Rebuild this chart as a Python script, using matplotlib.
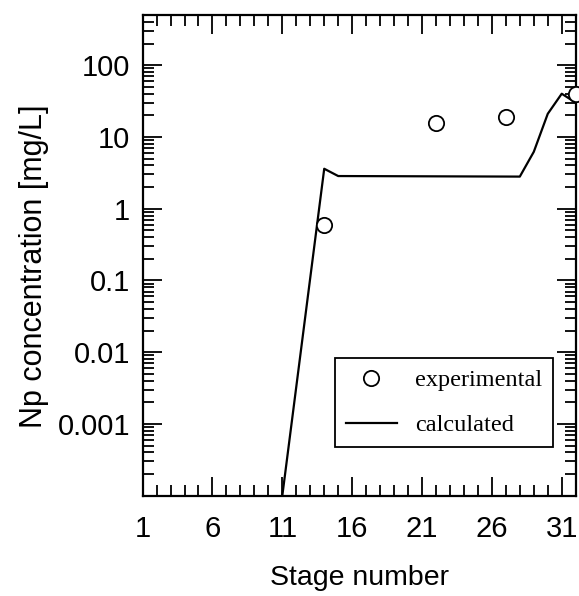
import matplotlib
matplotlib.use("Agg")
import matplotlib.pyplot as plt
from matplotlib.ticker import FixedLocator, MultipleLocator, LogLocator, NullFormatter

# experimental points
exp_stage = [14, 22, 27, 32]
exp_conc = [0.6, 15.7, 19.0, 40.0]

# calculated curve
calc_stage = [11, 14, 15, 28, 29, 30, 31, 32]
calc_conc = [1e-4, 3.6, 2.85, 2.8, 6.2, 21.0, 40.0, 30.0]

x_ticks = [1, 6, 11, 16, 21, 26, 31]
y_ticks = [0.001, 0.01, 0.1, 1, 10, 100]
y_labels = ["0.001", "0.01", "0.1", "1", "10", "100"]

fig = plt.figure(figsize=(5.79, 5.96), dpi=100)
ax = fig.add_axes([0.2463, 0.1683, 0.748, 0.8065])

ax.plot(calc_stage, calc_conc, color="black", lw=1.6, label="calculated", zorder=2)
ax.plot(exp_stage, exp_conc, "o", ms=11, mfc="white", mec="black", mew=1.3,
        label="experimental", clip_on=False, zorder=3)

ax.set_yscale("log")
ax.set_xlim(1, 32)
ax.set_ylim(1e-4, 500)

ax.xaxis.set_major_locator(FixedLocator(x_ticks))
ax.xaxis.set_minor_locator(MultipleLocator(1))
ax.set_xticklabels([str(t) for t in x_ticks])
ax.yaxis.set_major_locator(FixedLocator(y_ticks))
ax.set_yticklabels(y_labels)
ax.yaxis.set_minor_locator(LogLocator(base=10, subs=range(2, 10), numticks=20))
ax.yaxis.set_minor_formatter(NullFormatter())

ax.tick_params(which="both", direction="in", top=True, right=True, width=1.3,
               labelsize=21)
ax.tick_params(axis="x", pad=14)
ax.tick_params(axis="y", pad=9)
ax.tick_params(which="major", length=14)
ax.tick_params(which="minor", length=8)
for lbl in ax.get_xticklabels() + ax.get_yticklabels():
    lbl.set_family("Liberation Sans")

for s in ax.spines.values():
    s.set_linewidth(1.6)

ax.set_xlabel("Stage number", fontsize=20.5, family="Liberation Sans", labelpad=16)
ax.set_ylabel("Np concentration [mg/L]", fontsize=22, family="Liberation Sans")
ax.yaxis.set_label_coords(-0.215, 0.478)

handles, labels = ax.get_legend_handles_labels()
leg = ax.legend(handles[::-1], labels[::-1], loc="upper right",
                bbox_to_anchor=(0.948, 0.286), fancybox=False, framealpha=1,
                edgecolor="black", prop={"family": "Liberation Serif", "size": 17.5},
                handlelength=2.1, handletextpad=0.75, labelspacing=0.95,
                borderpad=0.45, borderaxespad=0)
leg.get_frame().set_linewidth(1.3)

fig.savefig("out.png", dpi=100, facecolor="white")
